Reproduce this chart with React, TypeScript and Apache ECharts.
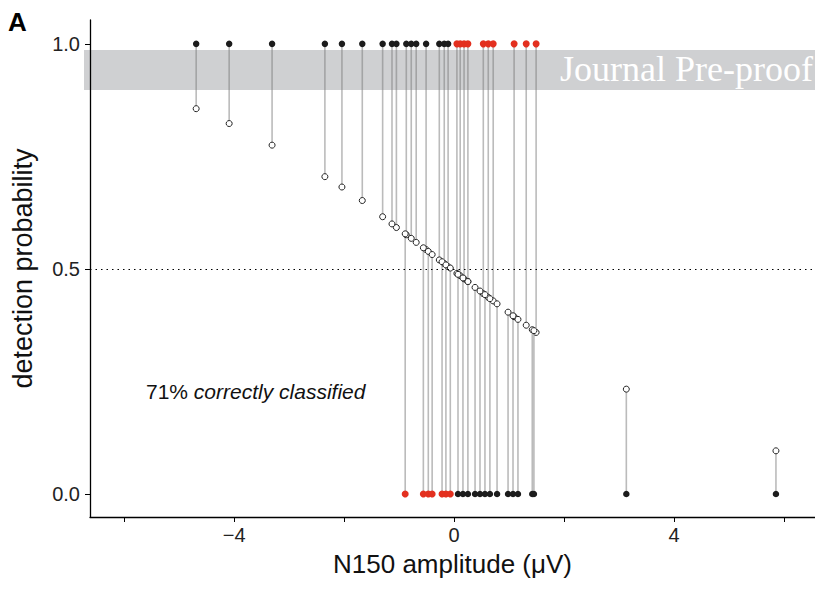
import React, { useEffect, useRef } from "react";
import * as echarts from "echarts";

// N150 amplitude (µV) of each observation
const amplitude = [
  -4.69, -4.09, -3.31, -2.35, -2.04, -1.67, -1.3, -1.13, -1.05, -0.87, -0.78, -0.69, -0.51, -0.27, -0.18, -0.11,
  0.05, 0.11, 0.18, 0.25, 0.53, 0.62, 0.71, 1.09, 1.31, 1.49,
  -0.89, -0.56, -0.47, -0.4, -0.22, -0.15, -0.07,
  0.07, 0.16, 0.25, 0.38, 0.47, 0.56, 0.65, 0.78, 0.98, 1.07, 1.16, 1.42, 1.45, 3.13, 5.85,
];
// observed detection (1 = detected, 0 = not detected)
const observed = [
  1, 1, 1, 1, 1, 1, 1, 1, 1, 1, 1, 1, 1, 1, 1, 1,
  1, 1, 1, 1, 1, 1, 1, 1, 1, 1,
  0, 0, 0, 0, 0, 0, 0,
  0, 0, 0, 0, 0, 0, 0, 0, 0, 0, 0, 0, 0, 0, 0,
];
// predicted detection probability
const predicted = [
  0.856, 0.823, 0.775, 0.705, 0.682, 0.652, 0.616, 0.6, 0.592, 0.576, 0.568, 0.559, 0.543, 0.52, 0.512, 0.505,
  0.49, 0.485, 0.478, 0.472, 0.445, 0.437, 0.429, 0.394, 0.375, 0.359,
  0.578, 0.547, 0.539, 0.532, 0.516, 0.509, 0.502,
  0.488, 0.48, 0.472, 0.459, 0.451, 0.443, 0.434, 0.4225, 0.404, 0.396, 0.388, 0.365, 0.363, 0.233, 0.096,
];
const xTicks = [-6, -4, -2, 0, 2, 4, 6];
const xLabels = [-4, 0, 4];
const yTicks = [0, 0.5, 1];
const annotationPct = "71%";
const annotationText = "correctly classified";
const watermark = "Journal Pre-proof";

export default function App() {
  const ref = useRef<HTMLDivElement>(null);
  useEffect(() => {
    if (!ref.current) return;
    const chart = echarts.init(ref.current, null, { renderer: "svg" });
    const rows = amplitude.map((x, i) => [x, observed[i], predicted[i]]);
    const isWrong = (r: number[]) => (r[2] >= 0.5 ? 1 : 0) !== r[1];
    const font = "'Liberation Sans', Arial, sans-serif";
    chart.setOption({
      animation: false,
      grid: { left: 90, right: 0, top: 20, bottom: 72 },
      xAxis: {
        type: "value",
        min: -6.62,
        max: 6.56,
        name: "N150 amplitude (μV)",
        nameLocation: "middle",
        nameGap: 34,
        nameTextStyle: { fontFamily: font, fontSize: 26, color: "#111" },
        axisLine: { show: true, onZero: false, lineStyle: { color: "#000", width: 1.3 } },
        axisTick: { show: true, customValues: xTicks, length: 5, lineStyle: { color: "#000", width: 1 } },
        axisLabel: {
          customValues: xLabels,
          fontFamily: font,
          fontSize: 20,
          color: "#222",
          margin: 8,
          formatter: (v: number) => (v < 0 ? "\u2212" + Math.abs(v) : String(v)),
        },
        splitLine: { show: false },
      },
      yAxis: {
        type: "value",
        min: -0.051,
        max: 1.053,
        name: "detection probability",
        nameLocation: "middle",
        nameGap: 54,
        nameTextStyle: { fontFamily: font, fontSize: 27, color: "#111" },
        axisLine: { show: true, onZero: false, lineStyle: { color: "#000", width: 1.3 } },
        axisTick: { show: true, customValues: yTicks, length: 5, lineStyle: { color: "#000", width: 1 } },
        axisLabel: {
          customValues: yTicks,
          fontFamily: font,
          fontSize: 20,
          color: "#222",
          margin: 10,
          formatter: (v: number) => v.toFixed(1),
        },
        splitLine: { show: false },
      },
      graphic: [
        {
          type: "rect",
          z: 0,
          shape: { x: 84, y: 50, width: 731, height: 40 },
          style: { fill: "#cfd0d2" },
        },
        {
          type: "text",
          z: 100,
          right: 2,
          top: 51,
          style: {
            text: watermark,
            fill: "#ffffff",
            font: "36px 'Liberation Serif', 'DejaVu Serif', serif",
          },
        },
        {
          type: "text",
          z: 100,
          left: 8,
          top: 9,
          style: { text: "A", fill: "#000", font: "bold 26px 'Liberation Sans', Arial, sans-serif" },
        },
        {
          type: "text",
          z: 100,
          left: 146,
          top: 381,
          style: {
            text: "{n|" + annotationPct + " }{i|" + annotationText + "}",
            rich: {
              n: { fontFamily: font, fontSize: 21, fill: "#111", color: "#111" },
              i: { fontFamily: font, fontSize: 21, fontStyle: "italic", fill: "#111", color: "#111" },
            },
          },
        },
      ],
      series: [
        {
          type: "custom",
          z: 2,
          data: rows,
          encode: { x: 0, y: [1, 2] },
          renderItem: (_params: any, api: any) => {
            const x = api.value(0);
            const a = api.coord([x, api.value(1)]);
            const b = api.coord([x, api.value(2)]);
            return {
              type: "line",
              shape: { x1: a[0], y1: a[1], x2: b[0], y2: b[1] },
              style: { stroke: "rgba(120,120,120,0.5)", lineWidth: 1.6 },
            };
          },
          silent: true,
        },
        {
          type: "scatter",
          z: 3,
          data: rows.map((r) => [r[0], r[2]]),
          symbol: "circle",
          symbolSize: 6,
          itemStyle: { color: "#ffffff", borderColor: "#222", borderWidth: 1, opacity: 1 },
          markLine: {
            silent: true,
            symbol: "none",
            label: { show: false },
            lineStyle: { type: [1.5, 4], color: "#000", width: 1.2 },
            data: [{ yAxis: 0.5 }],
          },
        },
        {
          type: "scatter",
          z: 4,
          data: rows.filter((r) => !isWrong(r)).map((r) => [r[0], r[1]]),
          symbol: "circle",
          symbolSize: 6.5,
          itemStyle: { color: "#1c1c1c", opacity: 1 },
        },
        {
          type: "scatter",
          z: 4,
          data: rows.filter((r) => isWrong(r)).map((r) => [r[0], r[1]]),
          symbol: "circle",
          symbolSize: 7,
          itemStyle: { color: "#e3301f", opacity: 1 },
        },
      ],
    });
    return () => chart.dispose();
  }, []);
  return (
    <div
      ref={ref}
      style={{ position: "fixed", left: 0, top: 0, width: 815, height: 589, background: "#fff" }}
    />
  );
}
